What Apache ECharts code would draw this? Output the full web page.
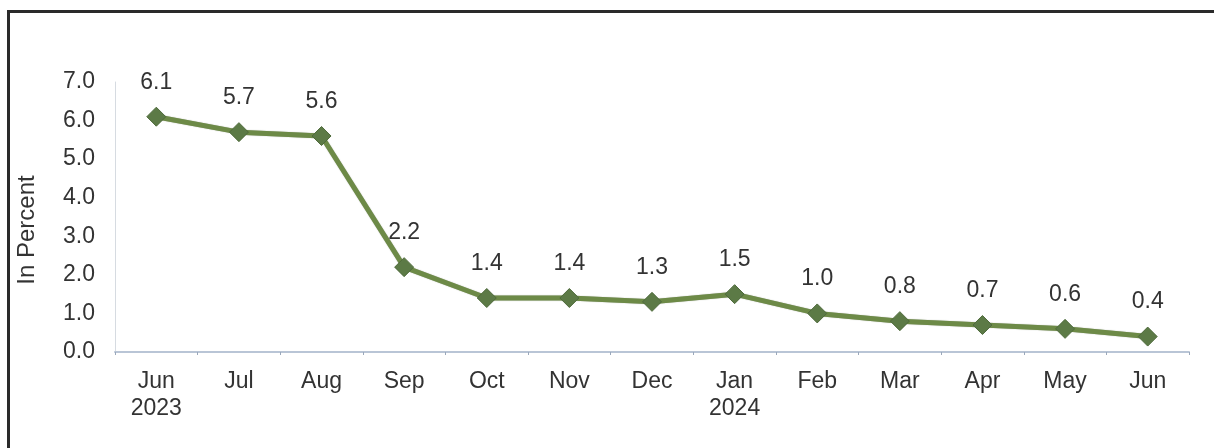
<!DOCTYPE html>
<html>
<head>
<meta charset="utf-8">
<script src="https://cdn.jsdelivr.net/npm/echarts@6/dist/echarts.min.js"></script>
<style>
  html, body { margin: 0; padding: 0; background: #fff; }
  #chart { width: 1214px; height: 448px; }
</style>
</head>
<body>
<div id="chart"></div>
<script>
var months = ['Jun\n2023', 'Jul', 'Aug', 'Sep', 'Oct', 'Nov', 'Dec', 'Jan\n2024', 'Feb', 'Mar', 'Apr', 'May', 'Jun'];
var rates = [6.1, 5.7, 5.6, 2.2, 1.4, 1.4, 1.3, 1.5, 1.0, 0.8, 0.7, 0.6, 0.4];

var font = '"Liberation Sans", Arial, sans-serif';
var chart = echarts.init(document.getElementById('chart'));

chart.setOption({
    animation: false,
    backgroundColor: '#fff',
    grid: { left: 115, right: 25, top: 82, bottom: 96 },
    graphic: [
        {
            type: 'rect',
            shape: { x: 8.5, y: 11.5, width: 1400, height: 600 },
            style: { fill: 'none', stroke: '#2a2a2a', lineWidth: 3 }
        },
        {
            type: 'text',
            x: 27, y: 230,
            rotation: Math.PI / 2,
            style: {
                text: 'In Percent', font: '24px ' + font, fill: '#333',
                align: 'center', verticalAlign: 'middle'
            }
        }
    ],
    xAxis: {
        type: 'category',
        data: months,
        boundaryGap: true,
        axisLine: { lineStyle: { color: '#b9c5d6', width: 2 } },
        axisTick: { show: true, length: 3, lineStyle: { color: '#9aa8bb' } },
        axisLabel: { color: '#333', fontFamily: font, fontSize: 23, margin: 16, lineHeight: 27 }
    },
    yAxis: {
        type: 'value',
        min: 0, max: 7, interval: 1,
        axisLine: { show: true, lineStyle: { color: '#d6dbe1', width: 1 } },
        axisTick: { show: false },
        splitLine: { show: false },
        axisLabel: {
            color: '#333', fontFamily: font, fontSize: 23, margin: 20,
            formatter: function (v) { return v.toFixed(1); }
        }
    },
    series: [{
        type: 'line',
        data: rates,
        symbol: 'diamond',
        symbolSize: 19,
        lineStyle: { color: '#6d8a47', width: 5, shadowColor: 'rgba(60,75,40,0.5)', shadowBlur: 1 },
        itemStyle: { color: '#5c7a46', borderColor: '#4e6a3b', borderWidth: 1 },
        label: {
            show: true, position: 'top', distance: 13,
            color: '#333', fontFamily: font, fontSize: 23,
            formatter: function (p) { return p.value.toFixed(1); }
        }
    }]
});
</script>
</body>
</html>
